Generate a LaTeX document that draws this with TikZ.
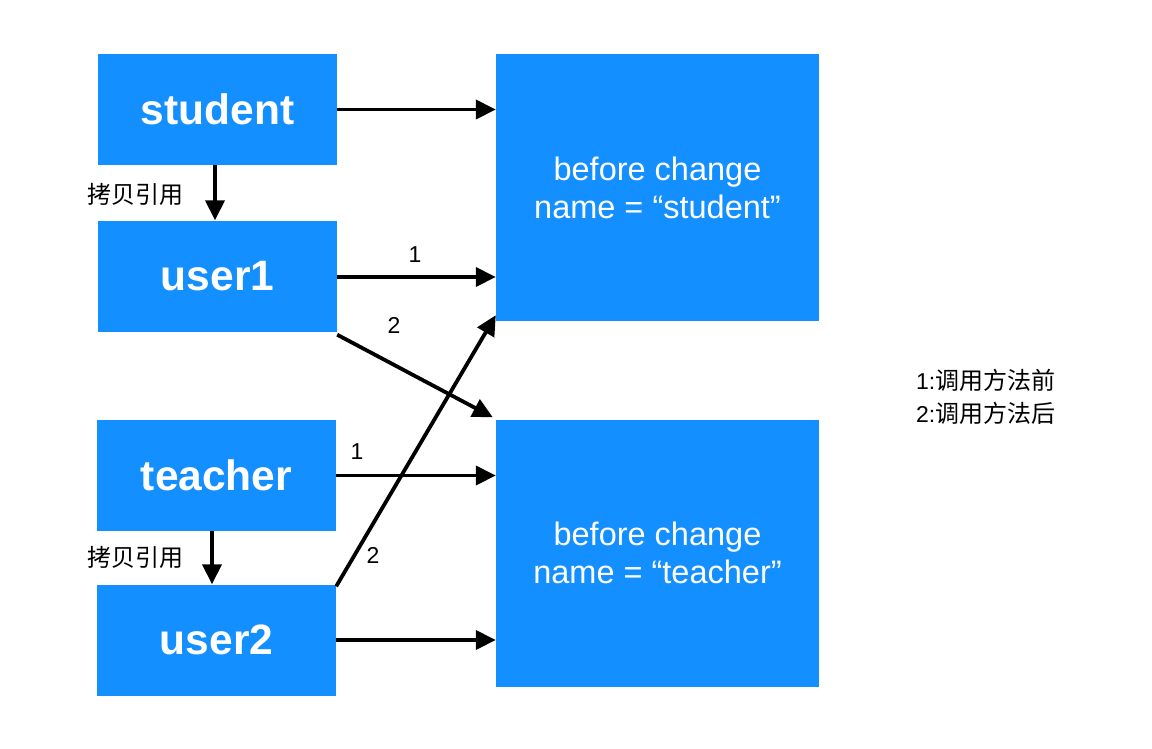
\documentclass[tikz,border=0pt]{standalone}
\usepackage{fontspec}
\setmainfont{Liberation Sans}
\newfontfamily\cjk{Noto Sans CJK SC}
\usetikzlibrary{arrows.meta}
\definecolor{boxblue}{RGB}{20,143,255}
\begin{document}
\begin{tikzpicture}[x=1pt,y=-1pt,
  small/.style={draw=none,fill=boxblue,minimum width=239pt,minimum height=111pt,inner sep=0pt,text=white,font=\fontsize{42.5}{48}\selectfont\bfseries},
  big/.style={draw=none,fill=boxblue,minimum width=323pt,minimum height=267pt,inner sep=0pt,text=white,align=center,font=\fontsize{32.5}{38}\selectfont},
  conn/.style={line width=3.8pt,-{Triangle[length=20pt,width=19pt]}},
  lab/.style={font=\fontsize{23}{26}\selectfont,inner sep=0pt},
  cn/.style={font=\cjk\fontsize{24}{28}\selectfont,inner sep=0pt}]
\useasboundingbox (0,0) rectangle (1152,748);
\node[small] (student) at (217.5,109.5) {student};
\node[small] (user1) at (217.5,276) {user1};
\node[small] (teacher) at (216.5,475.5) {teacher};
\node[small] (user2) at (216.5,640) {user2};
\node[big] (box1) at (657.5,187.5) {before change\\name = “student”};
\node[big] (box2) at (657.5,553) {before change\\name = “teacher”};
\draw[conn] (student.east) -- (student.east -| box1.west);
\draw[conn] (student.south -| 215,0) -- (user1.north -| 215,0);
\draw[conn] ([yshift=-1pt]user1.east) -- ([yshift=-1pt]user1.east -| box1.west);
\draw[conn] ([yshift=-3pt]user1.south east) -- ([xshift=-3pt,yshift=2pt]box2.north west);
\draw[conn] (teacher.east) -- (teacher.east -| box2.west);
\draw[conn] (teacher.south -| 212,0) -- (user2.north -| 212,0);
\draw[conn] ([yshift=-2pt]user2.north east) -- ([yshift=6pt]box1.south west);
\draw[conn] (user2.east) -- (user2.east -| box2.west);
\node[lab] (l1a) at (415,255) {1};
\node[lab] (l2a) at (394,325) {2};
\node[lab] (l1b) at (357,452) {1};
\node[lab] (l2b) at (373,555) {2};
\node[cn] (c1) at (135,194) {拷贝引用};
\node[cn] (c2) at (135,557) {拷贝引用};
\node[lab,anchor=west] (leg1) at (916,380) {1:{\cjk\fontsize{24}{28}\selectfont 调用方法前}};
\node[lab,anchor=west] (leg2) at (916,413) {2:{\cjk\fontsize{24}{28}\selectfont 调用方法后}};
\end{tikzpicture}
\end{document}
